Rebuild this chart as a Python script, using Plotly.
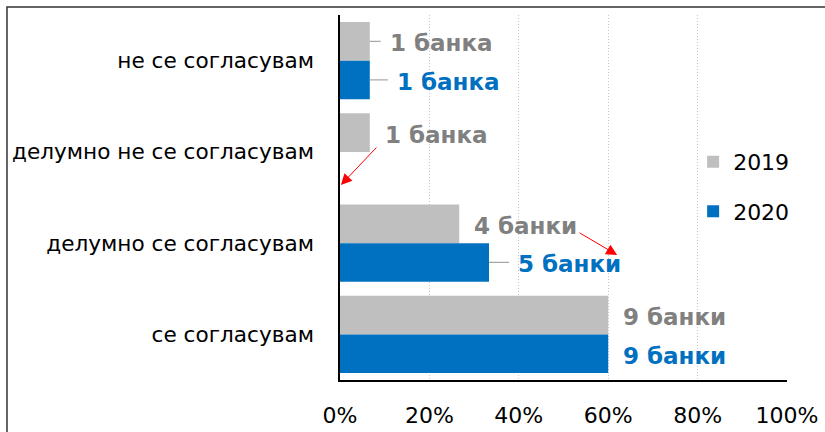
import plotly.graph_objects as go

categories = ["не се согласувам", "делумно не се согласувам", "делумно се согласувам", "се согласувам"]
series_names = ["2019", "2020"]
banks_2019 = [1, 1, 4, 9]
banks_2020 = [1, 0, 5, 9]
total_banks = 15
labels_2019 = ["1 банка", "1 банка", "4 банки", "9 банки"]
labels_2020 = ["1 банка", "", "5 банки", "9 банки"]
x_tickvals = [0, 20, 40, 60, 80, 100]
x_ticktext = ["0%", "20%", "40%", "60%", "80%", "100%"]

pct_2019 = [b / total_banks * 100 for b in banks_2019]
pct_2020 = [b / total_banks * 100 for b in banks_2020]

GRAY = "#BFBFBF"
BLUE = "#0070C0"
GRAY_TXT = "#808080"
FONT = "DejaVu Sans"
BARGAP = 0.156
OFF = (1 - BARGAP) / 4

# label placement styles (pixels): gap from bar end, leader line length
gap_2019 = [18, 13, 13, 13]
gap_2020 = [25, 13, 27, 13]
lead_2019 = [11, 0, 0, 0]
lead_2020 = [18, 0, 20, 0]

fig = go.Figure()
fig.add_trace(go.Bar(y=categories, x=pct_2019, orientation="h", name=series_names[0],
                     marker=dict(color=GRAY, line=dict(width=0)), legendgroup="a"))
fig.add_trace(go.Bar(y=categories, x=pct_2020, orientation="h", name=series_names[1],
                     marker=dict(color=BLUE, line=dict(width=0)), legendgroup="b"))

annotations = []
shapes = []
for i in range(len(categories)):
    for pct, lab, gap, lead, off, col in [
        (pct_2019[i], labels_2019[i], gap_2019[i], lead_2019[i], -OFF, GRAY_TXT),
        (pct_2020[i], labels_2020[i], gap_2020[i], lead_2020[i], OFF, BLUE),
    ]:
        if not lab:
            continue
        annotations.append(dict(x=pct, y=i + off, xref="x", yref="y", text=f"<b>{lab}</b>",
                                showarrow=False, xanchor="left", yanchor="middle",
                                xshift=gap, yshift=-2,
                                font=dict(family=FONT, size=23, color=col)))
        if lead:
            shapes.append(dict(type="line", xref="x", yref="y", xsizemode="pixel", xanchor=pct,
                               x0=0, x1=lead, y0=i + off, y1=i + off,
                               line=dict(color="#A6A6A6", width=1.2)))

# red arrows
annotations.append(dict(x=0.2, y=1.363, xref="x", yref="y", text="", showarrow=True,
                        ax=37, ay=-39, arrowhead=2, arrowsize=2.2, arrowwidth=1, arrowcolor="#FF0000"))
annotations.append(dict(x=62.0, y=2.13, xref="x", yref="y", text="", showarrow=True,
                        ax=-39, ay=-23, arrowhead=2, arrowsize=2.2, arrowwidth=1, arrowcolor="#FF0000"))

# outer frame
shapes.append(dict(type="rect", xref="paper", yref="paper",
                   x0=(7 - 340) / 447, x1=(840 - 340) / 447,
                   y0=(380 - 450) / 365, y1=(380 - 7) / 365,
                   line=dict(color="#333333", width=1.5), layer="below"))

fig.update_layout(
    width=825, height=432,
    margin=dict(l=340, r=38, t=15, b=52, autoexpand=False),
    paper_bgcolor="white", plot_bgcolor="white",
    barmode="group", bargap=BARGAP, bargroupgap=0,
    font=dict(family=FONT, size=22, color="black"),
    showlegend=True,
    legend=dict(x=0.79, y=0.655, xanchor="left", yanchor="top", tracegroupgap=18,
                font=dict(family=FONT, size=22), bgcolor="rgba(0,0,0,0)",
                itemwidth=30),
    annotations=annotations,
    shapes=shapes,
)
fig.update_xaxes(range=[0, 100], tickvals=x_tickvals, ticktext=x_ticktext, automargin=False,
                 showgrid=True, gridcolor="#C8C8C8", griddash="1px,2px", gridwidth=1,
                 showline=True, linecolor="black", linewidth=1.5, zeroline=False,
                 ticks="", ticklabelstandoff=15, tickfont=dict(family=FONT, size=22))
fig.update_yaxes(autorange="reversed", categoryorder="array", categoryarray=categories,
                 automargin=False,
                 showgrid=False, showline=True, linecolor="black", linewidth=1.5,
                 ticks="", ticklabelstandoff=20, tickfont=dict(family=FONT, size=21.6))

fig.write_html("out.html", config={"displayModeBar": False},
               post_script="document.body.style.margin='0px';document.body.style.overflow='hidden';")
